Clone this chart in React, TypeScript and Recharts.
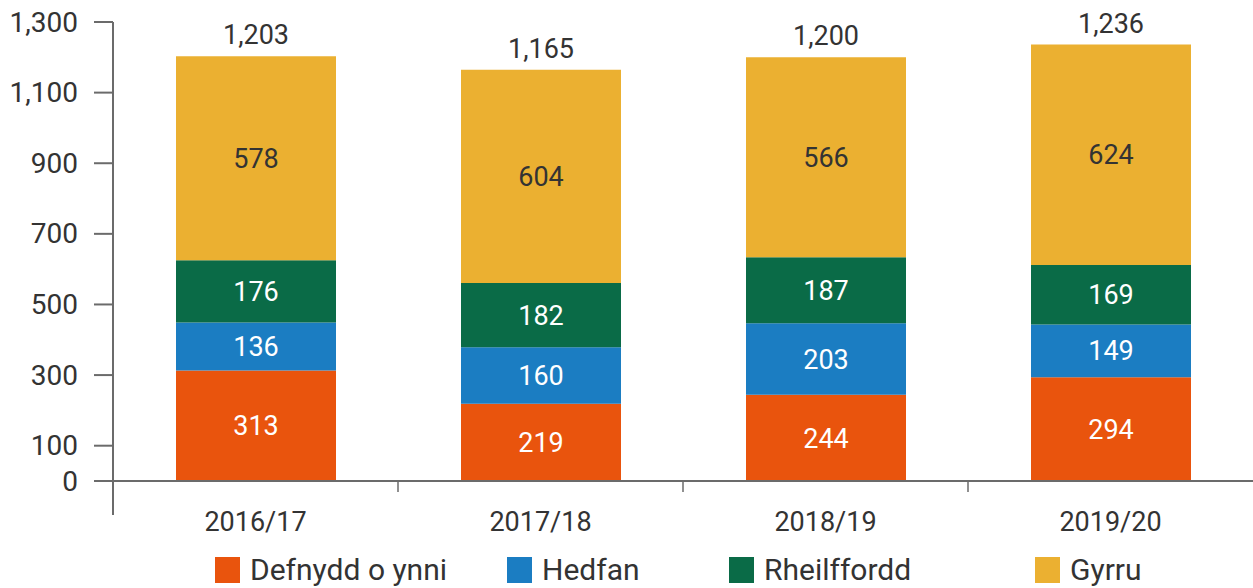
import React from 'react';
import { BarChart, Bar, XAxis, YAxis, LabelList } from 'recharts';

const categories = ['2016/17', '2017/18', '2018/19', '2019/20'];
const defnyddOYnni = [313, 219, 244, 294];
const hedfan = [136, 160, 203, 149];
const rheilffordd = [176, 182, 187, 169];
const gyrru = [578, 604, 566, 624];
const totals = [1203, 1165, 1200, 1236];
const yTicks = [0, 100, 300, 500, 700, 900, 1100, 1300];

const series = [
  { key: 'defnydd', name: 'Defnydd o ynni', values: defnyddOYnni, color: '#E9540D', text: '#fff' },
  { key: 'hedfan', name: 'Hedfan', values: hedfan, color: '#1B7DC2', text: '#fff' },
  { key: 'rheilffordd', name: 'Rheilffordd', values: rheilffordd, color: '#0A6B47', text: '#fff' },
  { key: 'gyrru', name: 'Gyrru', values: gyrru, color: '#EBB031', text: '#333' },
];

// legend item left edges, as laid out in the original
const legendLeft = [215, 507, 729, 1035];

const W = 1253;
const H = 588;
const Y_AXIS_W = 113;
const FONT = 'Roboto, "Noto Sans", sans-serif';
const TEXT = '#333';
const AXIS = '#6b6b6b';

const data = categories.map((cat, i) => {
  const row: Record<string, string | number> = { cat, total: totals[i] };
  series.forEach((s) => {
    row[s.key] = s.values[i];
  });
  return row;
});

const band = (W - Y_AXIS_W) / categories.length;

function XTick(props: any) {
  const { x, y, payload, index } = props;
  return (
    <g>
      {index > 0 && (
        <line x1={x - band / 2} x2={x - band / 2} y1={y} y2={y + 11} stroke={AXIS} strokeWidth={1.5} />
      )}
      <text x={x} y={y + 50} textAnchor="middle" fill={TEXT} fontSize={27} fontFamily={FONT}>
        {payload.value}
      </text>
    </g>
  );
}

function YTick(props: any) {
  const { x, y, payload } = props;
  return (
    <g>
      {payload.value === 0 && (
        <line x1={x + 35} x2={x + 35} y1={y} y2={y + 34} stroke={AXIS} strokeWidth={2} />
      )}
      <text x={x} y={y} textAnchor="end" dominantBaseline="central" fill={TEXT} fontSize={28} fontFamily={FONT}>
        {payload.value.toLocaleString('en-US')}
      </text>
    </g>
  );
}

export default function App() {
  return (
    <div style={{ position: 'absolute', left: 0, top: 0, width: W, height: H, background: '#fff', fontFamily: FONT }}>
      <BarChart width={W} height={545} data={data} margin={{ top: 22, right: 0, left: 0, bottom: 0 }}>
        <XAxis
          dataKey="cat"
          height={64}
          tick={<XTick />}
          tickLine={false}
          tickSize={0}
          tickMargin={0}
          axisLine={{ stroke: AXIS, strokeWidth: 2 }}
          interval={0}
        />
        <YAxis
          width={Y_AXIS_W}
          domain={[0, 1300]}
          ticks={yTicks}
          tick={<YTick />}
          tickSize={19}
          tickMargin={16}
          tickLine={{ stroke: AXIS, strokeWidth: 2 }}
          axisLine={{ stroke: AXIS, strokeWidth: 2 }}
          interval={0}
        />
        {series.map((s, i) => (
          <Bar key={s.key} dataKey={s.key} name={s.name} stackId="a" fill={s.color} barSize={160} isAnimationActive={false}>
            <LabelList dataKey={s.key} position="center" fill={s.text} fontSize={27} fontFamily={FONT} />
            {i === series.length - 1 && (
              <LabelList
                dataKey="total"
                position="top"
                offset={12}
                fill={TEXT}
                fontSize={27}
                fontFamily={FONT}
                formatter={(v: any) => Number(v).toLocaleString('en-US')}
              />
            )}
          </Bar>
        ))}
      </BarChart>
      {series.map((s, i) => (
        <div
          key={s.key}
          style={{
            position: 'absolute',
            left: legendLeft[i],
            top: 553,
            display: 'flex',
            alignItems: 'center',
            color: TEXT,
            fontSize: 30,
            lineHeight: '34px',
          }}
        >
          <span style={{ display: 'inline-block', width: 25, height: 26, background: s.color, marginRight: 10 }} />
          {s.name}
        </div>
      ))}
    </div>
  );
}
